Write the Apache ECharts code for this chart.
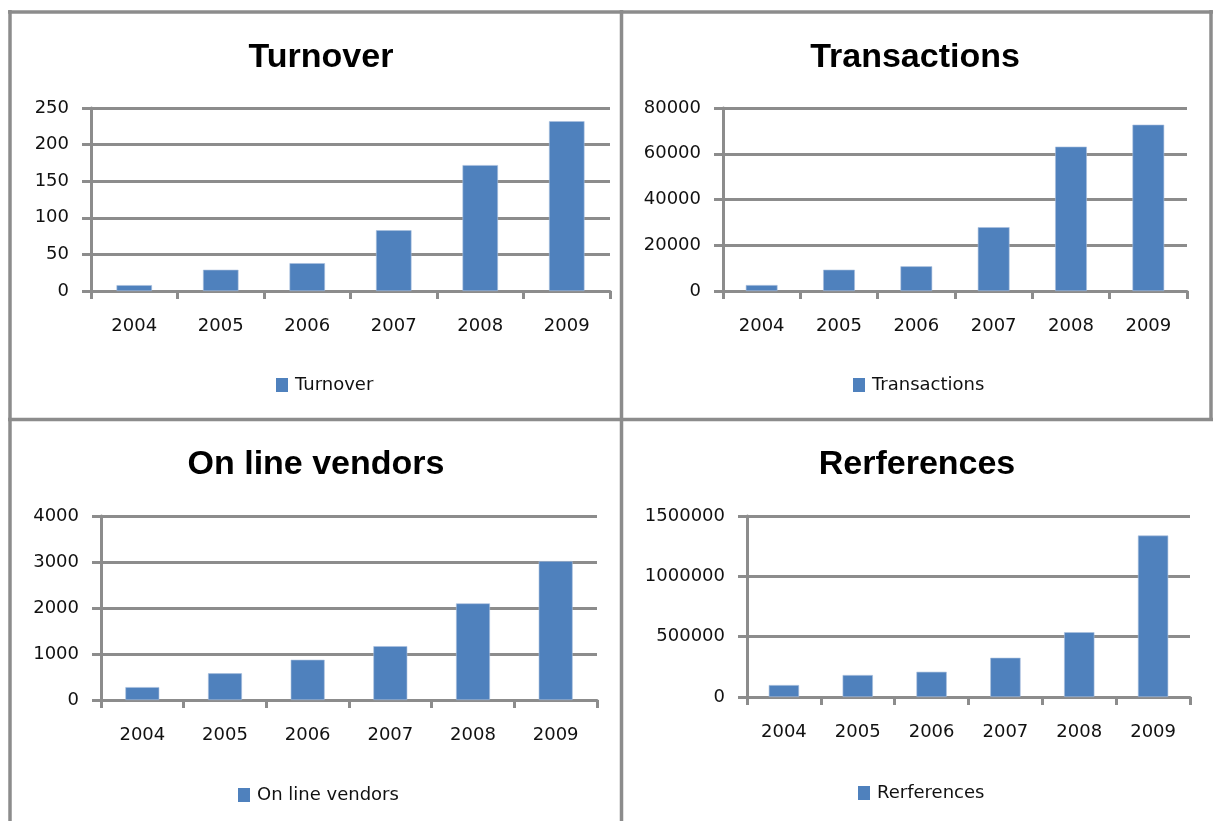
<!DOCTYPE html>
<html>
<head>
<meta charset="utf-8">
<script src="https://cdn.jsdelivr.net/npm/echarts@6/dist/echarts.min.js"></script>
<style>
html,body{margin:0;padding:0;background:#fff;}
#c{width:1213px;height:821px;}
</style>
</head>
<body>
<div id="c"></div>
<script>
const years = ['2004', '2005', '2006', '2007', '2008', '2009'];
const turnover = [8, 29, 38, 83, 172, 232];
const transactions = [2600, 9300, 10800, 27900, 63100, 72700];
const vendors = [280, 580, 875, 1170, 2100, 3020];
const references = [99000, 182000, 209000, 325000, 537000, 1338000];

const panelNames = ['Turnover', 'Transactions', 'On line vendors', 'Rerferences'];
const legendNames = ['Turnover', 'Transactions', 'On line vendors', 'Rerferences'];
const panelData = [turnover, transactions, vendors, references];
const axisMax = [250, 80000, 4000, 1500000];
const axisInterval = [50, 20000, 1000, 500000];

const GRAY = '#8c8c8c';
const BAR = '#4f81bd';
const FONT = 'DejaVu Sans';

const grids = [
  {left: 91, top: 108, width: 519, height: 183},
  {left: 723, top: 108, width: 464, height: 183},
  {left: 101, top: 516, width: 496, height: 184},
  {left: 747, top: 516, width: 443, height: 181}
];
const titlePos = [{x: 321, y: 41}, {x: 915, y: 41}, {x: 316, y: 448}, {x: 917, y: 448}];
const legendPos = [{x: 276, y: 376}, {x: 853, y: 376}, {x: 238, y: 786}, {x: 858, y: 784}];

const option = {
  animation: false,
  backgroundColor: '#fff',
  title: panelNames.map((t, i) => ({
    text: t,
    left: titlePos[i].x,
    top: titlePos[i].y,
    textAlign: 'center',
    padding: 0,
    textStyle: {fontFamily: 'Liberation Sans', fontWeight: 'bold', fontSize: 34, color: '#000'}
  })),
  legend: legendNames.map((n, i) => ({
    data: [n],
    left: legendPos[i].x,
    top: legendPos[i].y,
    padding: 0,
    itemWidth: 12,
    itemHeight: 14,
    itemGap: 7,
    icon: 'rect',
    itemStyle: {borderWidth: 0, color: BAR},
    textStyle: {fontFamily: FONT, fontSize: 18, color: '#111', padding: [0, 0, 0, 2]}
  })),
  grid: grids.map(g => Object.assign({containLabel: false}, g)),
  xAxis: grids.map((g, i) => ({
    type: 'category',
    gridIndex: i,
    data: years,
    boundaryGap: true,
    axisLine: {lineStyle: {color: GRAY, width: 3}},
    axisTick: {show: true, alignWithLabel: false, length: 8, lineStyle: {color: GRAY, width: 3}},
    axisLabel: {margin: 26, fontFamily: FONT, fontSize: 18, color: '#111'},
    splitLine: {show: false}
  })),
  yAxis: grids.map((g, i) => ({
    type: 'value',
    gridIndex: i,
    min: 0,
    max: axisMax[i],
    interval: axisInterval[i],
    axisLine: {show: true, lineStyle: {color: GRAY, width: 3}},
    axisTick: {show: true, inside: false, length: 9, lineStyle: {color: GRAY, width: 3}},
    axisLabel: {margin: 22, fontFamily: FONT, fontSize: 18, color: '#111', formatter: v => String(v)},
    splitLine: {show: true, lineStyle: {color: GRAY, width: 3}}
  })),
  series: panelData.map((d, i) => ({
    type: 'bar',
    name: legendNames[i],
    xAxisIndex: i,
    yAxisIndex: i,
    data: d,
    barWidth: '41%',
    itemStyle: {color: BAR, borderColor: '#a9c0de', borderWidth: 0.6},
    z: 3
  })),
  graphic: [
    {type: 'line', shape: {x1: 8, y1: 12, x2: 1213, y2: 12}, style: {stroke: GRAY, lineWidth: 3.5}},
    {type: 'line', shape: {x1: 10, y1: 10, x2: 10, y2: 821}, style: {stroke: GRAY, lineWidth: 3.5}},
    {type: 'line', shape: {x1: 1211, y1: 10, x2: 1211, y2: 420}, style: {stroke: GRAY, lineWidth: 3.5}},
    {type: 'line', shape: {x1: 621.5, y1: 10, x2: 621.5, y2: 821}, style: {stroke: GRAY, lineWidth: 3.5}},
    {type: 'line', shape: {x1: 8, y1: 419.5, x2: 1213, y2: 419.5}, style: {stroke: GRAY, lineWidth: 3.5}}
  ]
};

const chart = echarts.init(document.getElementById('c'), null, {renderer: 'canvas'});
chart.setOption(option);
</script>
</body>
</html>
